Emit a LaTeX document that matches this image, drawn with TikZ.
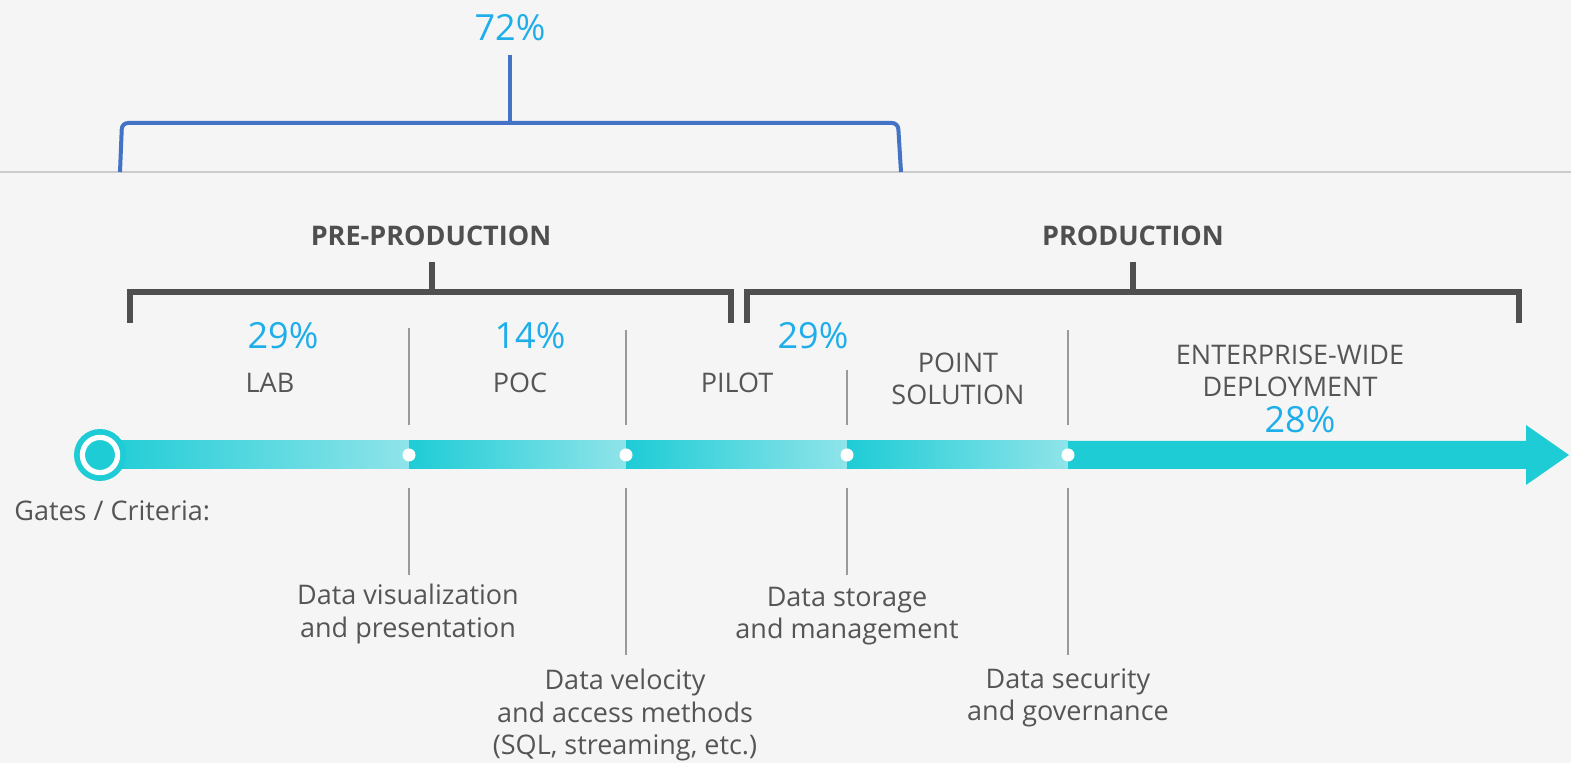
\documentclass[tikz,border=0pt]{standalone}
\usepackage{fontspec}
\setmainfont{Open Sans}
\definecolor{bg}{HTML}{F5F5F5}
\definecolor{txt}{HTML}{555555}
\definecolor{pct}{HTML}{1EAEEA}
\definecolor{cyanbar}{HTML}{1ECCD6}
\definecolor{cyanlight}{HTML}{8FE4E9}
\definecolor{bluebr}{HTML}{4472C4}
\definecolor{darkbr}{HTML}{4F4F4F}
\definecolor{sep}{HTML}{9A9A9A}
\tikzset{
  lbl/.style={text=txt,font=\fontsize{13.5}{16.3}\selectfont,align=center,inner sep=0pt},
  pcttxt/.style={text=pct,font=\fontsize{18}{20}\selectfont,inner sep=0pt},
  hdr/.style={text=darkbr,font=\fontsize{13.5}{16}\selectfont\bfseries,inner sep=0pt},
  bluebracket/.style={draw=bluebr,line width=2pt,rounded corners=3pt},
  darkbracket/.style={draw=darkbr,line width=3.2pt},
  sepline/.style={draw=sep,line width=0.7pt},
  seg/.style={left color=cyanbar,right color=cyanlight,draw=none},
  dot/.style={circle,fill=white,minimum size=6.5pt,inner sep=0pt}
}
\begin{document}
\begin{tikzpicture}[x=0.5pt,y=-0.5pt]
\useasboundingbox (0,0) rectangle (1571,763);
\fill[bg] (0,0) rectangle (1571,763);
\draw[draw=black!20,line width=0.6pt] (0,172) -- (1571,172);
% top blue bracket
\node[pcttxt] (p72) at (510,28) {72\%};
\draw[bluebracket] (120,172) -- (122,123) -- (898,123) -- (901,172);
\draw[bluebracket,rounded corners=0pt] (510,55) -- (510,123);
% headers
\node[hdr] (pre) at (431,236) {PRE-PRODUCTION};
\node[hdr] (prod) at (1133,236) {PRODUCTION};
\draw[darkbracket] (130,323) -- (130,292) -- (731,292) -- (731,323);
\draw[darkbracket] (432,262) -- (432,292);
\draw[darkbracket] (747,323) -- (747,292) -- (1519,292) -- (1519,323);
\draw[darkbracket] (1133,262) -- (1133,292);
% separators
\draw[sepline] (409,328) -- (409,425);
\draw[sepline] (409,488) -- (409,575);
\draw[sepline] (626,330) -- (626,425);
\draw[sepline] (626,488) -- (626,655);
\draw[sepline] (847,370) -- (847,425);
\draw[sepline] (847,488) -- (847,575);
\draw[sepline] (1068,330) -- (1068,425);
\draw[sepline] (1068,488) -- (1068,655);
% bar
\shade[seg] (100,441) rectangle (409,469);
\shade[seg] (409,441) rectangle (626,469);
\shade[seg] (626,441) rectangle (847,469);
\shade[seg] (847,441) rectangle (1068,469);
\fill[cyanbar] (1068,441) -- (1526,441) -- (1526,425) -- (1569,455) -- (1526,485) -- (1526,469) -- (1068,469) -- cycle;
\fill[cyanbar] (100,455) circle[radius=13pt];
\draw[white,line width=2.6pt] (100,455) circle[radius=8.8pt];
\node[dot] (g1) at (409,455) {};
\node[dot] (g2) at (626,455) {};
\node[dot] (g3) at (847,455) {};
\node[dot] (g4) at (1068,455) {};
% stage labels
\node[pcttxt] (p29a) at (283,336) {29\%};
\node[lbl] (lab) at (270,383) {LAB};
\node[pcttxt] (p14) at (530,336) {14\%};
\node[lbl] (poc) at (520,383) {POC};
\node[pcttxt] (p29b) at (813,336) {29\%};
\node[lbl] (pilot) at (737,383) {PILOT};
\node[lbl] (point) at (958,379) {POINT\\SOLUTION};
\node[lbl] (ent) at (1290,371) {ENTERPRISE-WIDE\\DEPLOYMENT};
\node[pcttxt] (p28) at (1300,420) {28\%};
% gates
\node[lbl,anchor=west] (gates) at (14,511) {Gates / Criteria:};
\node[lbl] (c1) at (408,614) {Data visualization\\and presentation};
\node[lbl] (c2) at (625,715) {Data velocity\\and access methods\\(SQL, streaming, etc.)};
\node[lbl] (c3) at (847,616) {Data storage\\and management};
\node[lbl] (c4) at (1068,698) {Data security\\and governance};
\end{tikzpicture}
\end{document}
